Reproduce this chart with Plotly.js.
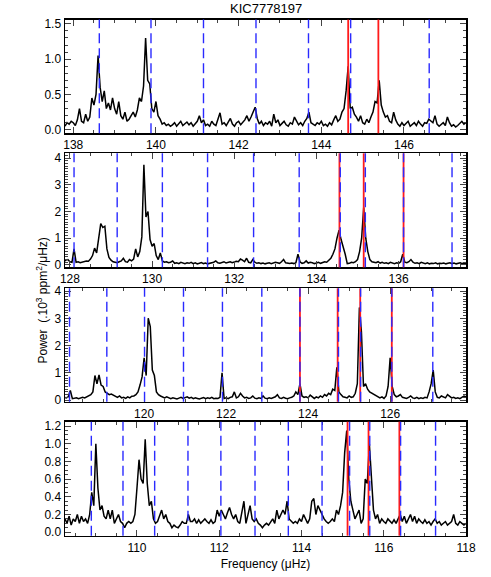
<!DOCTYPE html>
<html>
<head>
<meta charset="utf-8">
<script src="https://cdn.plot.ly/plotly-3.0.1.min.js"></script>
<style>
body { margin: 0; background: #fff; }
#plot { width: 491px; height: 577px; }
</style>
</head>
<body>
<div id="plot"></div>
<script>
// spectrum samples, step 0.05 muHz, one array per panel (top to bottom)
const startFreq = [137.80, 127.85, 118.05, 108.25];
const stepFreq = 0.05;

const power1 = [0.05,0.10,0.08,0.12,0.10,0.06,0.14,0.30,0.12,0.10,0.22,0.12,0.18,0.45,0.35,0.50,1.05,0.60,0.40,0.55,
0.30,0.38,0.28,0.45,0.30,0.22,0.40,0.20,0.15,0.25,0.12,0.15,0.20,0.25,0.18,0.28,0.45,0.40,0.62,1.30,
0.70,0.65,0.30,0.25,0.40,0.20,0.15,0.08,0.10,0.06,0.08,0.05,0.07,0.10,0.05,0.08,0.12,0.06,0.09,0.11,
0.07,0.10,0.05,0.08,0.12,0.20,0.10,0.14,0.06,0.08,0.05,0.12,0.08,0.06,0.14,0.24,0.08,0.10,0.06,0.12,
0.16,0.08,0.05,0.10,0.12,0.07,0.10,0.14,0.20,0.12,0.18,0.24,0.32,0.16,0.08,0.12,0.06,0.10,0.08,0.12,
0.05,0.22,0.10,0.14,0.06,0.09,0.12,0.07,0.05,0.10,0.08,0.18,0.12,0.07,0.10,0.06,0.12,0.16,0.25,0.10,
0.08,0.06,0.10,0.08,0.12,0.06,0.08,0.05,0.10,0.07,0.14,0.20,0.12,0.15,0.25,0.30,0.55,0.90,0.30,0.32,
0.22,0.18,0.12,0.20,0.10,0.08,0.15,0.10,0.18,0.25,0.40,0.38,0.70,0.35,0.25,0.18,0.20,0.12,0.10,0.25,
0.14,0.08,0.05,0.10,0.06,0.09,0.12,0.05,0.08,0.10,0.06,0.12,0.08,0.05,0.10,0.09,0.15,0.12,0.10,0.20,
0.08,0.05,0.07,0.10,0.06,0.18,0.10,0.05,0.07,0.04,0.06,0.09,0.12,0.08,0.10];

const power2 = [0.12,0.18,0.20,0.12,0.10,0.60,0.10,0.12,0.08,0.10,0.12,0.15,0.14,0.22,0.35,0.63,0.45,0.95,1.55,1.40,
1.45,0.60,0.28,0.18,0.12,0.10,0.08,0.12,0.15,0.25,0.12,0.10,0.20,0.15,0.22,0.60,0.30,0.50,1.05,3.75,
1.80,2.00,0.95,0.70,0.80,0.35,0.20,0.45,0.15,0.10,0.12,0.08,0.10,0.15,0.06,0.08,0.05,0.10,0.07,0.05,
0.08,0.06,0.10,0.05,0.08,0.04,0.06,0.09,0.05,0.07,0.04,0.06,0.08,0.10,0.15,0.08,0.06,0.10,0.12,0.07,
0.09,0.12,0.08,0.10,0.14,0.12,0.22,0.18,0.12,0.25,0.10,0.08,0.20,0.10,0.06,0.08,0.05,0.07,0.04,0.06,
0.08,0.05,0.07,0.10,0.08,0.06,0.12,0.20,0.08,0.06,0.05,0.07,0.05,0.08,0.40,0.12,0.06,0.08,0.15,0.07,
0.10,0.08,0.05,0.07,0.10,0.06,0.08,0.12,0.10,0.18,0.25,0.40,0.60,1.00,1.30,0.95,0.70,0.40,0.05,0.06,
0.10,0.08,0.12,0.20,0.50,1.00,2.15,1.00,0.50,0.20,0.12,0.10,0.08,0.12,0.07,0.10,0.06,0.08,0.05,0.10,
0.07,0.05,0.08,0.06,0.12,0.40,0.10,0.08,0.12,0.20,0.10,0.06,0.08,0.05,0.10,0.07,0.05,0.08,0.04,0.06,
0.05,0.08,0.04,0.06,0.05,0.07,0.04,0.06,0.08,0.05,0.07,0.04,0.06,0.08,0.05,0.07,0.06];

const power3 = [0.10,0.08,0.12,0.35,0.05,0.06,0.08,0.05,0.07,0.10,0.08,0.12,0.15,0.20,0.30,0.90,0.60,0.92,0.55,0.50,
0.30,0.25,0.20,0.22,0.18,0.12,0.10,0.15,0.08,0.10,0.06,0.12,0.08,0.14,0.15,0.20,0.30,0.55,0.85,1.55,
0.90,3.00,2.70,1.10,0.90,0.30,0.20,0.15,0.10,0.08,0.12,0.07,0.05,0.08,0.06,0.04,0.07,0.10,0.06,0.08,
0.12,0.07,0.10,0.05,0.08,0.06,0.04,0.07,0.09,0.05,0.08,0.06,0.10,0.05,0.07,0.06,0.10,1.00,0.06,0.08,
0.05,0.10,0.12,0.30,0.08,0.12,0.25,0.15,0.08,0.10,0.06,0.08,0.15,0.07,0.05,0.08,0.06,0.15,0.07,0.05,
0.08,0.06,0.10,0.12,0.20,0.08,0.06,0.10,0.07,0.05,0.08,0.10,0.15,0.30,0.20,0.60,0.15,0.10,0.12,0.08,
0.18,0.10,0.06,0.12,0.08,0.15,0.10,0.20,0.15,0.25,0.20,0.40,0.35,1.20,0.30,0.20,0.12,0.10,0.08,0.15,
0.10,0.12,0.25,0.60,3.40,2.50,0.50,0.60,0.40,0.30,0.25,0.20,0.15,0.10,0.08,0.12,0.06,0.15,0.50,1.55,
0.50,0.20,0.12,0.15,0.20,0.10,0.08,0.06,0.10,0.15,0.08,0.06,0.10,0.05,0.08,0.06,0.10,0.08,0.30,0.60,
1.10,0.30,0.10,0.08,0.15,0.10,0.08,0.20,0.12,0.08,0.10,0.06,0.08,0.05,0.10,0.15,0.12];

const power4 = [0.15,0.10,0.18,0.08,0.15,0.12,0.20,0.10,0.18,0.12,0.15,0.10,0.20,0.45,0.30,1.00,0.50,0.25,0.30,0.18,
0.15,0.25,0.15,0.25,0.10,0.15,0.20,0.12,0.10,0.05,0.10,0.12,0.10,0.12,0.20,0.50,0.82,0.60,0.55,1.05,
0.55,0.30,0.35,0.15,0.10,0.12,0.20,0.25,0.15,0.20,0.12,0.10,0.05,0.08,0.06,0.05,0.08,0.12,0.10,0.10,
0.20,0.12,0.12,0.15,0.10,0.14,0.10,0.12,0.15,0.12,0.10,0.14,0.10,0.12,0.25,0.18,0.25,0.20,0.15,0.22,
0.28,0.20,0.15,0.20,0.12,0.10,0.25,0.35,0.10,0.22,0.30,0.15,0.12,0.15,0.10,0.08,0.05,0.08,0.10,0.08,
0.12,0.15,0.10,0.25,0.15,0.20,0.25,0.20,0.35,0.15,0.12,0.10,0.12,0.10,0.15,0.12,0.20,0.15,0.10,0.15,
0.35,0.38,0.20,0.30,0.25,0.20,0.15,0.12,0.10,0.12,0.15,0.12,0.25,0.20,0.30,0.45,0.90,1.15,0.60,0.35,
0.25,0.15,0.20,0.25,0.10,0.15,0.60,0.55,1.00,0.60,0.25,0.15,0.20,0.10,0.15,0.12,0.10,0.15,0.12,0.10,
0.14,0.10,0.15,0.20,0.12,0.18,0.10,0.15,0.20,0.12,0.18,0.10,0.15,0.12,0.10,0.14,0.10,0.12,0.08,0.12,
0.15,0.10,0.12,0.08,0.10,0.12,0.08,0.10,0.12,0.20,0.10,0.08,0.12,0.10,0.08,0.10];

// marked mode frequencies
const blue1 = [138.63, 139.88, 141.15, 142.42, 143.69, 144.71, 146.61];
const blue2 = [128.10, 129.15, 130.25, 131.35, 132.47, 133.58, 134.58, 135.19, 136.12, 137.30];
const blue3 = [118.18, 119.09, 120.01, 120.96, 121.91, 122.87, 123.80, 124.74, 125.28, 126.04, 127.04];
const blue4 = [108.89, 109.66, 110.43, 111.24, 112.04, 112.87, 113.68, 114.50, 115.17, 115.66, 116.41, 117.26];
const red1 = [144.65, 145.38];
const red2 = [134.56, 135.15, 136.12];
const red3 = [123.80, 124.72, 125.27, 126.04];
const red4 = [115.12, 115.63, 116.38];

const xRanges = [[137.8, 147.5], [127.88, 137.64], [118.07, 127.85], [108.25, 118.0]];
const yRanges = [[-0.05, 1.56], [-0.09, 4.18], [-0.06, 4.1], [-0.04, 1.25]];
const yDomains = [[0.769, 0.966], [0.5367, 0.7343], [0.3038, 0.5003], [0.0716, 0.2692]];
const yDtick = [0.5, 1, 1, 0.2];
const yMinor = [0.1, 0.1, 0.1, 0.05];
const yFormat = [".1f", "d", "d", ".1f"];

const powers = [power1, power2, power3, power4];
const blues = [blue1, blue2, blue3, blue4];
const reds = [red1, red2, red3, red4];

const font = "Liberation Sans, Arial, sans-serif";
const traces = [];
const shapes = [];
const layout = {
    width: 491, height: 577,
    margin: { l: 0, r: 0, t: 0, b: 0 },
    paper_bgcolor: "#fff", plot_bgcolor: "#fff",
    showlegend: false,
    font: { family: font, size: 12, color: "#000" },
    annotations: [
        { text: "KIC7778197", x: 0.541, y: 1 - 9 / 577, xref: "paper", yref: "paper",
          xanchor: "center", yanchor: "middle", showarrow: false, font: { size: 13 } },
        { text: "Power  (.10<sup>3</sup> ppm<sup>2</sup>/μHz)", textangle: -90,
          x: 41.5 / 491, y: 1 - 301 / 577, xref: "paper", yref: "paper",
          xanchor: "center", yanchor: "middle", showarrow: false, font: { size: 12 } }
    ]
};

for (let p = 0; p < 4; p++) {
    const n = p === 0 ? "" : String(p + 1);
    const freq = powers[p].map((_, i) => +(startFreq[p] + i * stepFreq).toFixed(2));
    traces.push({
        x: freq, y: powers[p], xaxis: "x" + n, yaxis: "y" + n,
        type: "scatter", mode: "lines",
        line: { color: "#000", width: 1.5 }
    });

    const xa = {
        domain: [65 / 491, 466 / 491], range: xRanges[p], anchor: "y" + n,
        dtick: 2, tick0: 0, ticks: "inside", ticklen: 6, tickwidth: 1,
        minor: { ticks: "inside", dtick: 0.5, ticklen: 3 },
        showline: true, mirror: "ticks", linecolor: "#000", linewidth: 1.5,
        showgrid: false, zeroline: false
    };
    if (p === 3) xa.title = { text: "Frequency (μHz)", standoff: 6, font: { size: 12 } };
    layout["xaxis" + n] = xa;

    layout["yaxis" + n] = {
        domain: yDomains[p], range: yRanges[p], anchor: "x" + n,
        dtick: yDtick[p], tick0: 0, tickformat: yFormat[p],
        ticks: "inside", ticklen: 6, tickwidth: 1,
        minor: { ticks: "inside", dtick: yMinor[p], ticklen: 3 },
        showline: true, mirror: "ticks", linecolor: "#000", linewidth: 1.5,
        showgrid: false, zeroline: false
    };

    reds[p].forEach(f => shapes.push({
        type: "line", xref: "x" + n, yref: "y" + n + " domain",
        x0: f, x1: f, y0: 0, y1: 1, layer: "above",
        line: { color: "#ff1a1a", width: 1.8 }
    }));
    blues[p].forEach(f => shapes.push({
        type: "line", xref: "x" + n, yref: "y" + n + " domain",
        x0: f, x1: f, y0: 0, y1: 1, layer: "above",
        line: { color: "#2a2aff", width: 1.4, dash: "10px,5px" }
    }));
}
layout.shapes = shapes;

Plotly.newPlot("plot", traces, layout, { staticPlot: true });
</script>
</body>
</html>
